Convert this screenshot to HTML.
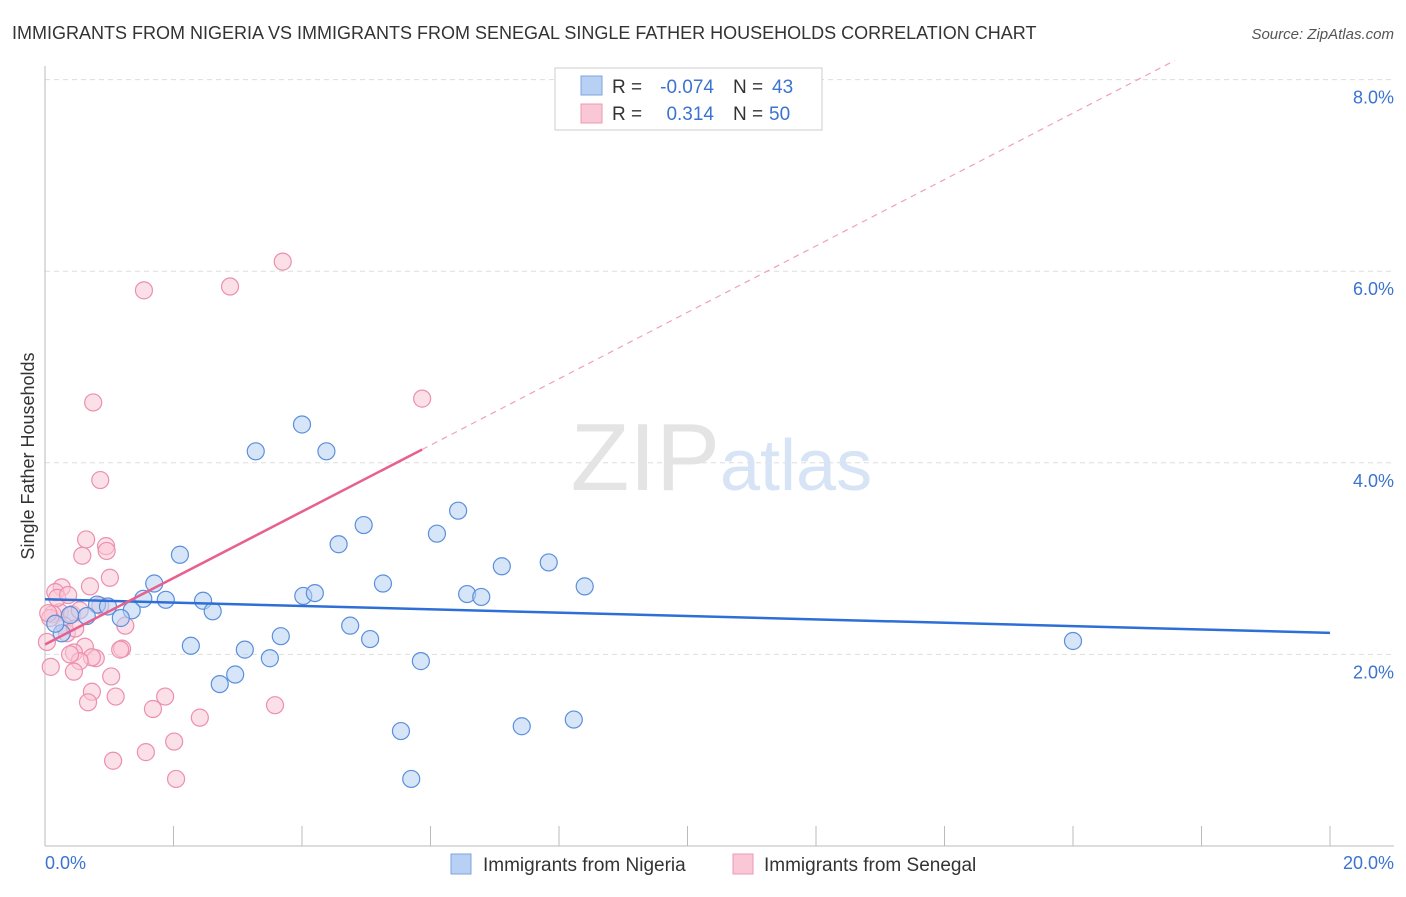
<!DOCTYPE html>
<html><head><meta charset="utf-8"><style>
body{margin:0;background:#fff;font-family:"Liberation Sans",sans-serif;}
svg text{font-family:"Liberation Sans",sans-serif;}
</style></head><body>
<svg id="c" width="1406" height="892" xmlns="http://www.w3.org/2000/svg">
<text x="12" y="39" font-size="18" fill="#333">IMMIGRANTS FROM NIGERIA VS IMMIGRANTS FROM SENEGAL SINGLE FATHER HOUSEHOLDS CORRELATION CHART</text>
<text x="1394" y="39" font-size="15" fill="#555" font-style="italic" text-anchor="end">Source: ZipAtlas.com</text>
<g id="grid"></g>
<text x="720" y="490" font-size="96" fill="#e4e4e4" text-anchor="end" font-family="Liberation Serif">ZIP</text>
<text x="720" y="490" font-size="72" fill="#d6e4f5">atlas</text>
<line x1="45" y1="66" x2="45" y2="846" stroke="#bbb"/>
<line x1="45" y1="846" x2="1394" y2="846" stroke="#bbb"/>
<g id="ticks"></g>
<g id="pts"></g>
<g id="trends"></g>
<text transform="translate(34,456) rotate(-90)" font-size="18" fill="#333" text-anchor="middle">Single Father Households</text>
<text x="45" y="869" font-size="18" fill="#3b73d0">0.0%</text>
<text x="1394" y="869" font-size="18" fill="#3b73d0" text-anchor="end">20.0%</text>
<g>
<rect x="555" y="68" width="267" height="62" fill="#fff" stroke="#ccc"/>
<rect x="581" y="76" width="21" height="19" fill="#b7d0f3" stroke="#7ea6e0"/>
<rect x="581" y="104" width="21" height="19" fill="#f9c7d6" stroke="#ec9ab4"/>
<text x="612" y="93" font-size="19" fill="#333">R = </text><text x="714" y="93" font-size="19" fill="#3b73d0" text-anchor="end">-0.074</text>
<text x="733" y="93" font-size="19" fill="#333">N = </text><text x="772" y="93" font-size="19" fill="#3b73d0">43</text>
<text x="612" y="120" font-size="19" fill="#333">R = </text><text x="714" y="120" font-size="19" fill="#3b73d0" text-anchor="end">0.314</text>
<text x="733" y="120" font-size="19" fill="#333">N = </text><text x="769" y="120" font-size="19" fill="#3b73d0">50</text>
</g>
<g>
<rect x="451" y="854" width="20" height="20" fill="#b7d0f3" stroke="#7ea6e0"/>
<text x="483" y="871" font-size="19" fill="#333">Immigrants from Nigeria</text>
<rect x="733" y="854" width="20" height="20" fill="#f9c7d6" stroke="#ec9ab4"/>
<text x="764" y="871" font-size="19" fill="#333">Immigrants from Senegal</text>
</g>
</svg>
<script>
const yTicks=[2,4,6,8];
const nigeriaX=[4.0,3.28,4.38,6.43,4.96,6.1,4.57,2.1,7.84,7.11,1.7,5.26,8.4,4.02,4.2,6.57,6.79,1.53,1.88,2.46,0.81,0.98,1.35,2.61,0.65,1.18,4.75,3.67,5.06,2.27,3.11,16.0,3.5,5.85,2.96,2.72,0.26,0.16,5.54,7.42,8.23,5.7,0.39];
const nigeriaY=[4.4,4.12,4.12,3.5,3.35,3.26,3.15,3.04,2.96,2.92,2.74,2.74,2.71,2.61,2.64,2.63,2.6,2.58,2.57,2.56,2.52,2.5,2.46,2.45,2.4,2.38,2.3,2.19,2.16,2.09,2.05,2.14,1.96,1.93,1.79,1.69,2.22,2.32,1.2,1.25,1.32,0.70,2.41];
const senegalX=[3.7,2.88,1.54,5.87,0.75,0.86,0.64,0.95,0.58,0.96,0.26,0.7,1.01,0.16,0.23,0.12,0.42,0.54,0.86,0.3,0.34,1.25,0.03,0.62,0.45,1.2,1.17,0.79,0.73,0.54,0.39,0.09,0.45,1.03,0.73,0.67,1.1,1.87,1.68,2.41,3.58,2.01,1.57,1.06,2.04,0.08,0.19,0.47,0.36,0.05];
const senegalY=[6.1,5.84,5.8,4.67,4.63,3.82,3.2,3.13,3.03,3.08,2.7,2.71,2.8,2.65,2.44,2.42,2.42,2.46,2.51,2.3,2.22,2.3,2.13,2.08,2.02,2.06,2.05,1.96,1.97,1.93,2.0,1.87,1.82,1.77,1.61,1.5,1.56,1.56,1.43,1.34,1.47,1.09,0.98,0.89,0.70,2.38,2.59,2.27,2.62,2.43];
const NS='http://www.w3.org/2000/svg';
const X=v=>45+v/20*1285, Y=v=>846-v*95.8;
function mk(t,a,p){const e=document.createElementNS(NS,t);for(const k in a)e.setAttribute(k,a[k]);p.appendChild(e);return e;}
const grid=document.getElementById('grid'),ticks=document.getElementById('ticks'),pts=document.getElementById('pts'),tr=document.getElementById('trends');
yTicks.forEach(t=>{const l=mk('line',{x1:45,x2:1394,y1:Y(t),y2:Y(t),stroke:'#ddd','stroke-dasharray':'5,4'},grid);


const tx=mk('text',{x:1394,y:Y(t)+24,'font-size':18,fill:'#3b73d0','text-anchor':'end'},ticks);tx.textContent=t.toFixed(1)+'%';

});
for(let i=1;i<=10;i++){const l=mk('line',{x1:X(i*2),x2:X(i*2),y1:826,y2:846,stroke:'#bbb'},ticks);

}
function series(xs,ys,fill,stroke,name){xs.forEach((x,i)=>{const c=mk('circle',{cx:X(x),cy:Y(ys[i]),r:8.5,fill:fill,'fill-opacity':0.55,stroke:stroke,'stroke-width':1.2},pts);

});}
series(senegalX,senegalY,'#f9c7d6','#ec8fb0','senegal-point');
series(nigeriaX,nigeriaY,'#b7d0f3','#5b8fdc','nigeria-point');
function fit(xs,ys){const n=xs.length,mx=xs.reduce((a,b)=>a+b)/n,my=ys.reduce((a,b)=>a+b)/n;let sxy=0,sxx=0;xs.forEach((x,i)=>{sxy+=(x-mx)*(ys[i]-my);sxx+=(x-mx)**2});const b=sxy/sxx;return[my-b*mx,b];}
const nb=fit(nigeriaX,nigeriaY);
const l1=mk('line',{x1:X(0),y1:Y(nb[0]),x2:X(20),y2:Y(nb[0]+nb[1]*20),stroke:'#2d6fd6','stroke-width':2.5},tr);


const sb=fit(senegalX,senegalY);const xm=Math.max(...senegalX);
const l2=mk('line',{x1:X(0),y1:Y(sb[0]),x2:X(xm),y2:Y(sb[0]+sb[1]*xm),stroke:'#e8608e','stroke-width':2.5},tr);


const xe=Math.min(20,(8.2-sb[0])/sb[1]);
const l3=mk('line',{x1:X(xm),y1:Y(sb[0]+sb[1]*xm),x2:X(xe),y2:Y(sb[0]+sb[1]*xe),stroke:'#f0a0bb','stroke-width':1.2,'stroke-dasharray':'6,5'},tr);


</script>
</body></html>
